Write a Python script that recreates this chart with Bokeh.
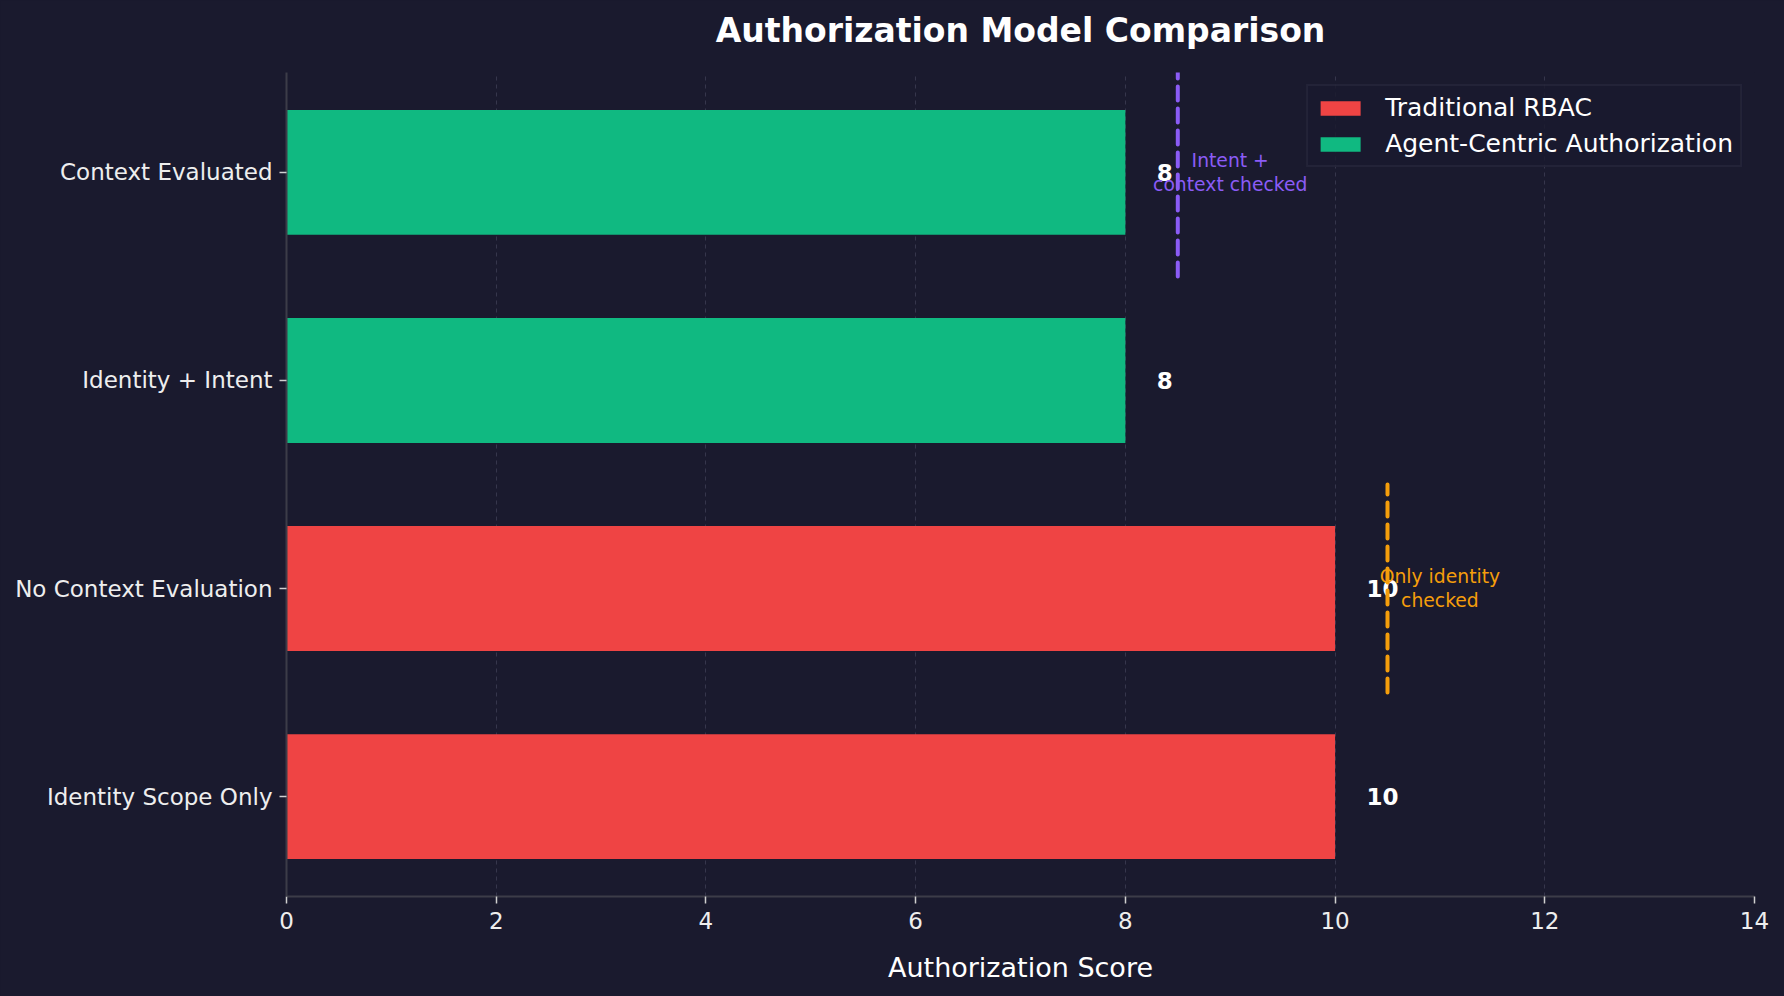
from bokeh.plotting import figure
from bokeh.models import Range1d, FixedTicker, Legend, LegendItem, ColumnDataSource
from bokeh.core.properties import value
from bokeh.embed import file_html
from bokeh.resources import INLINE

# --- data ---------------------------------------------------------------
categories = ["Identity Scope Only", "No Context Evaluation", "Identity + Intent", "Context Evaluated"]
scores = [10, 10, 8, 8]
models = ["Traditional RBAC", "Traditional RBAC", "Agent-Centric Authorization", "Agent-Centric Authorization"]
model_names = ["Traditional RBAC", "Agent-Centric Authorization"]
model_colors = ["#ef4444", "#10b981"]

# marker lines with their notes: (x of line, category it brackets, note text)
marker_x = [10.5, 8.5]
marker_cat = ["No Context Evaluation", "Context Evaluated"]
marker_text = ["Only identity\nchecked", "Intent +\ncontext checked"]
marker_colors = ["#f59e0b", "#8b5cf6"]

x_ticks = [0, 2, 4, 6, 8, 10, 12, 14]

BG = "#1a1a2e"
FONT = "DejaVu Sans"

ypos = {c: i for i, c in enumerate(categories)}

p = figure(
    width=1784, height=996,
    x_range=Range1d(0, 14), y_range=Range1d(-0.48, 3.48),
    output_backend="svg", toolbar_location=None,
    background_fill_color=None, border_fill_color=BG,
    min_border_left=286, min_border_right=30,
    min_border_top=72, min_border_bottom=100,
)
p.outline_line_color = None

# title (padding given as left, right, top, bottom)
p.title.text = "Authorization Model Comparison"
p.title.text_font = FONT
p.title.text_font_size = "33px"
p.title.text_font_style = "bold"
p.title.text_color = "#ffffff"
p.title.align = "center"
p.title.vertical_align = "top"
p.title.standoff = 0
p.title.padding = (0, 0, 10, 21)

# bars, one renderer per model for the legend
legend_items = []
for name, color in zip(model_names, model_colors):
    idx = [i for i, m in enumerate(models) if m == name]
    src = ColumnDataSource(dict(
        y=[ypos[categories[i]] for i in idx],
        right=[scores[i] for i in idx],
    ))
    r = p.hbar(y="y", left=0, right="right", height=0.6, source=src,
               fill_color=color, line_color=None)
    legend_items.append(LegendItem(label=name, renderers=[r]))

# value labels
lab = ColumnDataSource(dict(
    x=[s + 0.3 for s in scores],
    y=[ypos[c] for c in categories],
    t=[str(s) for s in scores],
))
p.text(x="x", y="y", text="t", source=lab, text_align="left", text_baseline="middle",
       text_font=value(FONT), text_font_size="23px", text_font_style="bold",
       text_color="#ffffff")

# dashed marker lines and their notes
for mx, mc, mt, col in zip(marker_x, marker_cat, marker_text, marker_colors):
    yc = ypos[mc]
    p.segment(x0=[mx], y0=[yc - 0.5], x1=[mx], y1=[yc + 0.5], line_color=col,
              line_width=4, line_dash="14 8", line_cap="round")
    p.text(x=[mx + 0.5], y=[yc], text=[mt], text_align="center", text_baseline="middle",
           text_font=value(FONT), text_font_size="18.75px", text_color=col,
           text_line_height=1.15)

# legend
legend = Legend(items=legend_items, location="top_right", margin=12,
                label_text_font=FONT, label_text_font_size="25px",
                label_text_color="#ffffff",
                glyph_width=50, glyph_height=18, label_height=29, label_standoff=20,
                spacing=7, padding=7,
                background_fill_color=BG, background_fill_alpha=0.85,
                border_line_color="#2e2e42", border_line_width=2)
p.add_layout(legend)

# axes
xa = p.xaxis[0]
xa.ticker = FixedTicker(ticks=x_ticks)
xa.axis_label = "Authorization Score"
xa.axis_label_text_font = FONT
xa.axis_label_text_font_size = "27px"
xa.axis_label_text_font_style = "normal"
xa.axis_label_text_color = "#ffffff"
xa.axis_label_standoff = 20

ya = p.yaxis[0]
ya.ticker = FixedTicker(ticks=list(range(len(categories))))
ya.major_label_overrides = {i: c for i, c in enumerate(categories)}

for ax in (xa, ya):
    ax.major_label_text_font = FONT
    ax.major_label_text_font_size = "23px"
    ax.major_label_text_color = "#eeeeee"
    ax.major_label_standoff = 8
    ax.axis_line_color = "#3c3c48"
    ax.axis_line_width = 2
    ax.major_tick_line_color = "#d0d0d0"
    ax.major_tick_line_width = 1.5
    ax.major_tick_out = 7
    ax.major_tick_in = 0
    ax.minor_tick_line_color = None
ya.major_label_standoff = 7

# grid
p.xgrid.ticker = FixedTicker(ticks=x_ticks)
p.xgrid.grid_line_color = "#4a4a60"
p.xgrid.grid_line_alpha = 0.6
p.xgrid.grid_line_dash = "4 4"
p.xgrid.grid_line_width = 1
p.ygrid.grid_line_color = None

page_style = "{% block postamble %}<style>html, body { background: #1a1a2e; }</style>{% endblock %}"
open("out.html", "w").write(file_html(p, INLINE, template=page_style))
